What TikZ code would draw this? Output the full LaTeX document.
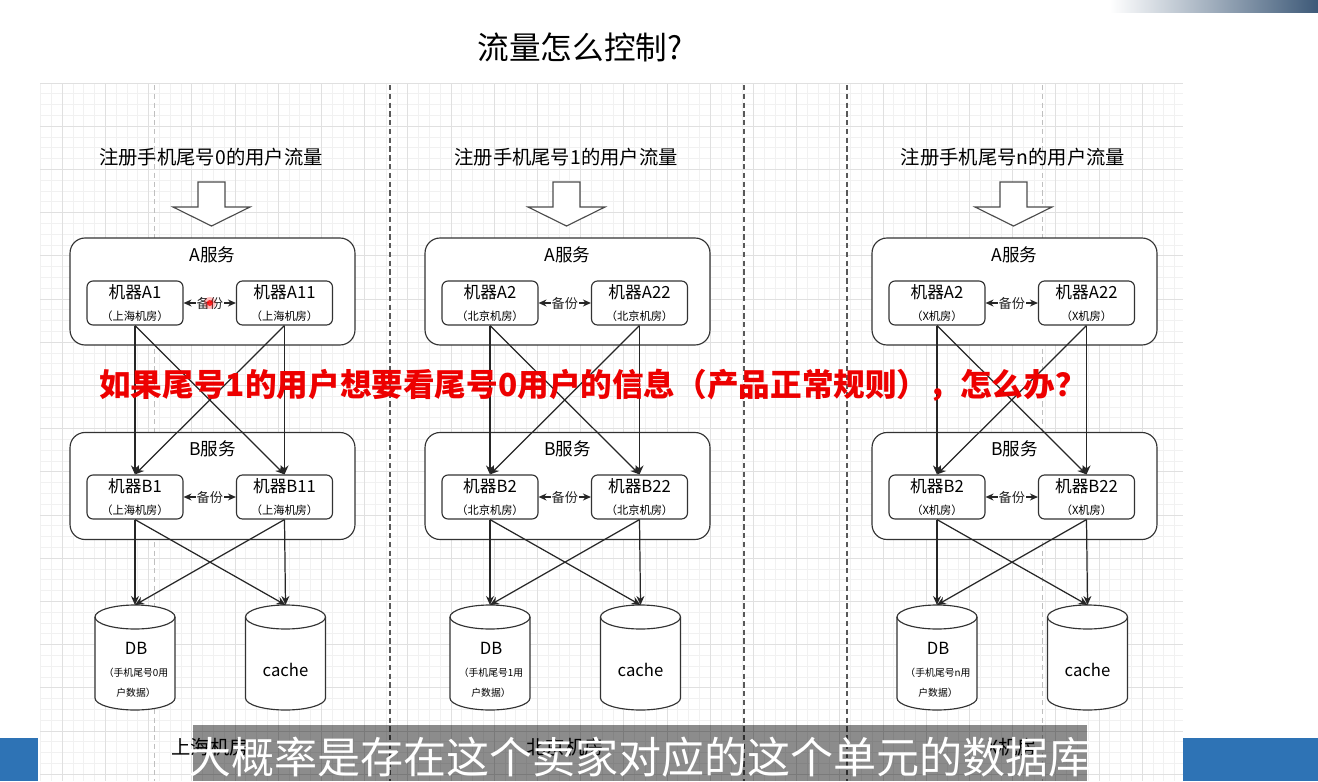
\documentclass[tikz,border=0pt]{standalone}
\usepackage{fontspec}
\setmainfont{Noto Sans CJK SC}
\usetikzlibrary{arrows.meta, positioning, shapes.geometric}
\definecolor{gridfine}{rgb}{0.945,0.945,0.945}
\definecolor{gridbold}{rgb}{0.88,0.88,0.88}
\definecolor{edgegray}{rgb}{0.2,0.2,0.2}
\definecolor{alertred}{rgb}{0.93,0.0,0.0}
\definecolor{barblue}{rgb}{0.18,0.45,0.71}
\definecolor{winshade}{rgb}{0.24,0.35,0.47}
\newcommand\roomfont{\fontsize{6.4}{8}\selectfont}
\newcommand\notefont{\fontsize{5.6}{7}\selectfont}

\begin{document}
\begin{tikzpicture}[x=0.02cm, y=-0.02cm,
    svc/.style={draw=edgegray, line width=0.65pt, rounded corners=0.3cm, fill=white, minimum width=5.7cm, minimum height=2.14cm},
    svctitle/.style={font=\fontsize{10}{12}\selectfont},
    mach/.style={draw=edgegray, line width=0.65pt, rounded corners=0.12cm, fill=white, minimum width=1.92cm, minimum height=0.88cm, align=center, inner sep=0pt, font=\fontsize{9.5}{12}\selectfont},
    storebody/.style={minimum width=1.62cm, minimum height=1.62cm, align=center, inner sep=0pt, font=\fontsize{9.5}{11.5}\selectfont},
    storeline/.style={draw=edgegray, line width=0.65pt, fill=white},
    flow/.style={-{Stealth[length=1.8mm, width=1.6mm]}, line width=0.7pt, black!85},
    bak/.style={{Stealth[length=1.6mm, width=1.4mm]}-{Stealth[length=1.6mm, width=1.4mm]}, line width=0.7pt, black!85},
    baklabel/.style={fill=white, inner sep=0.6pt, font=\fontsize{7.5}{9}\selectfont},
    hdr/.style={font=\fontsize{11}{13}\selectfont},
    bigarrow/.style={draw=black!70, line width=0.65pt, fill=white},
    divider/.style={draw=black!65, line width=0.6pt, dash pattern=on 3pt off 2pt},
    pagebreak/.style={draw=black!25, line width=0.5pt, dash pattern=on 3pt off 2pt}
  ]
  \useasboundingbox (0,0) rectangle (1318,781);
  \fill[white] (0,0) rectangle (1318,781);
  \shade[left color=white, right color=winshade] (1110,0) rectangle (1318,12);
  \foreach \i in {0,...,105} \draw[gridfine, line width=0.4pt] ({40.6+10.8*\i},83) -- ({40.6+10.8*\i},781);
  \foreach \j in {0,...,64} \draw[gridfine, line width=0.4pt] (40,{83+10.8*\j}) -- (1183,{83+10.8*\j});
  \foreach \k in {0,...,25} \draw[gridbold, line width=0.4pt] ({62.2+43.2*\k},83) -- ({62.2+43.2*\k},781);
  \foreach \k in {0,...,16} \draw[gridbold, line width=0.4pt] (40,{83+43.2*\k}) -- (1183,{83+43.2*\k});
  \foreach \dx in {390,744,847} \draw[divider] (\dx,85) -- (\dx,781);
  \foreach \dx in {154,1042} \draw[pagebreak] (\dx,85) -- (\dx,781);

  \node[font=\fontsize{18}{20}\selectfont] (title) at (580,47) {流量怎么控制?};

  \foreach \ox/\n/\ida/\idb/\room/\tail in {0/1/1/11/上海机房/0, 355/2/2/22/北京机房/1, 802/3/2/22/X机房/n}{
    \node[hdr] (hdr\n) at (\ox+211,157) {注册手机尾号\tail 的用户流量};
    \draw[bigarrow] (\ox+198,182) -- (\ox+225,182) -- (\ox+225,207) -- (\ox+250,207) -- (\ox+211.5,226) -- (\ox+173,207) -- (\ox+198,207) -- cycle;
    \node[svc] (svcA\n) at (\ox+212.5,291.5) {};
    \node[svctitle] (titA\n) at (\ox+212.5,255) {A服务};
    \node[mach] (al\n) at (\ox+135,303) {机器A\ida\\\roomfont （\room）};
    \node[mach] (ar\n) at (\ox+284.5,303) {机器A\idb\\\roomfont （\room）};
    \node[svc] (svcB\n) at (\ox+212.5,486) {};
    \node[svctitle] (titB\n) at (\ox+212.5,449) {B服务};
    \node[mach] (bl\n) at (\ox+135,497) {机器B\ida\\\roomfont （\room）};
    \node[mach] (br\n) at (\ox+284.5,497) {机器B\idb\\\roomfont （\room）};
    \draw[storeline] (\ox+95,617) -- (\ox+95,698) arc[start angle=180, end angle=0, x radius=40, y radius=12] -- (\ox+175,617) arc[start angle=0, end angle=-180, x radius=40, y radius=12] -- cycle;
    \draw[storeline, fill=none] (\ox+95,617) arc[start angle=180, end angle=0, x radius=40, y radius=12];
    \draw[storeline] (\ox+245.5,617) -- (\ox+245.5,698) arc[start angle=180, end angle=0, x radius=40, y radius=12] -- (\ox+325.5,617) arc[start angle=0, end angle=-180, x radius=40, y radius=12] -- cycle;
    \draw[storeline, fill=none] (\ox+245.5,617) arc[start angle=180, end angle=0, x radius=40, y radius=12];
    \coordinate (dbtop\n) at (\ox+135,605);
    \coordinate (catop\n) at (\ox+285.5,605);
    \node[storebody] (db\n) at (\ox+136,670) {DB\\[1pt]\notefont （手机尾号\tail 用\\\notefont 户数据）};
    \node[storebody] (ca\n) at (\ox+285.5,670) {cache};
    \node[hdr] (room\n) at (\ox+210,747) {\room};
    \draw[bak] (al\n.east) -- node[baklabel] (bka\n) {备份} (ar\n.west);
    \draw[bak] (bl\n.east) -- node[baklabel] (bkb\n) {备份} (br\n.west);
    \draw[flow] (al\n.south) -- (bl\n.north);
    \draw[flow] (al\n.south) -- (br\n.north);
    \draw[flow] (ar\n.south) -- (br\n.north);
    \draw[flow] (ar\n.south) -- (bl\n.north);
    \draw[flow] (bl\n.south) -- (dbtop\n);
    \draw[flow] (bl\n.south) -- (catop\n);
    \draw[flow] (br\n.south) -- (catop\n);
    \draw[flow] (br\n.south) -- (dbtop\n);
  }
  \fill[red, opacity=0.25] (bka1.center) circle (6);
  \fill[red, opacity=0.8] (bka1.center) circle (3);

  \node[font=\fontsize{18}{20}\selectfont\bfseries, text=alertred] (ask) at (593,385) {如果尾号1的用户想要看尾号0用户的信息（产品正常规则），怎么办？};

  \fill[black, opacity=0.45] (193,725) rectangle (1087,781);
  \node[font=\fontsize{24.5}{28}\selectfont, text=white] (caption) at (640,757) {大概率是存在这个卖家对应的这个单元的数据库};
  \fill[barblue] (0,738) rectangle (38,781);
  \fill[barblue] (1183,738) rectangle (1318,781);
\end{tikzpicture}
\end{document}
